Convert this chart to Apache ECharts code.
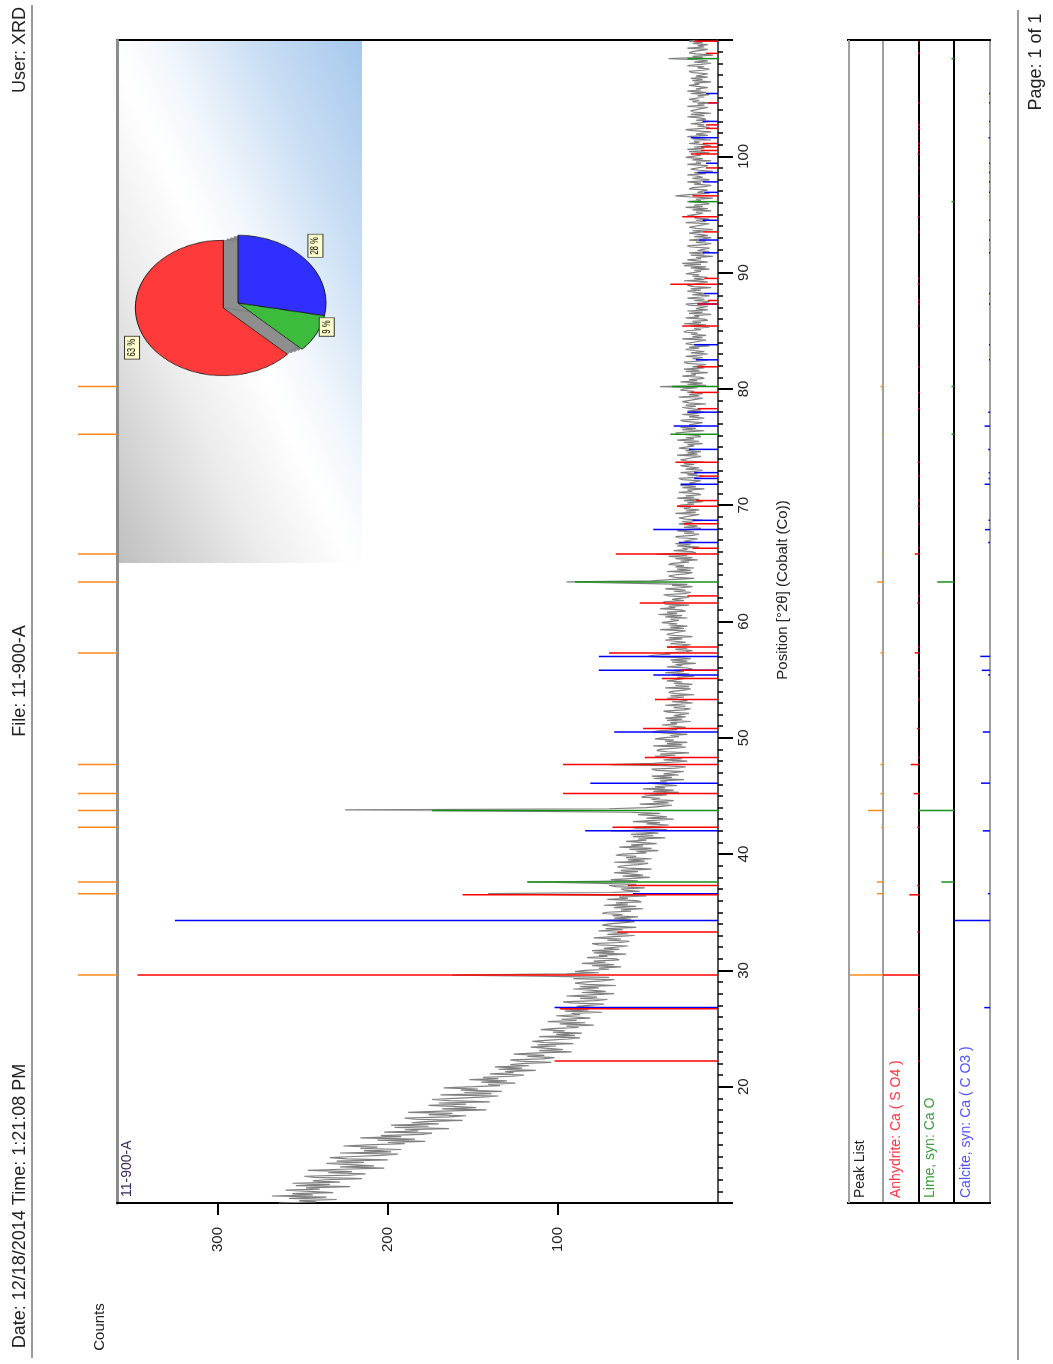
<!DOCTYPE html>
<html>
<head>
<meta charset="utf-8">
<title>11-900-A</title>
<script src="https://cdn.jsdelivr.net/npm/echarts@6/dist/echarts.min.js"></script>
<style>
  html, body { margin: 0; padding: 0; background: #ffffff; }
  #wrap { position: relative; width: 1053px; height: 1364px; }
  #chart { position: absolute; left: 0; top: 0; width: 1053px; height: 1364px; }
  #inset {
    position: absolute; left: 119px; top: 41px; width: 243px; height: 522px;
    background: linear-gradient(to top right, #bfbfbf 0%, #ececec 30%, #ffffff 48%, #f2f7fc 58%, #c9def4 78%, #a6c8ec 100%);
  }
  #pie {
    position: absolute; left: 0; top: 0; width: 243px; height: 522px;
    transform-origin: 117px 262px; transform: scaleY(0.77);
  }
</style>
</head>
<body>
<div id="wrap">
  <div id="chart"></div>
  <div id="inset"><div id="pie"></div></div>
</div>
<script>
// ---- Scan 11-900-A, Co radiation, 10-110 deg 2theta, 0.1 deg steps ----
const scanStart = 10;
const scanStep = 0.1;
const scanCounts = [
  264, 242, 252, 230, 258, 236, 268, 244, 256, 232,   // 10
  232, 260, 240, 248, 222, 254, 234, 256, 228, 244,   // 11
  237, 215, 243, 249, 223, 213, 235, 221, 247, 227,   // 12
  202, 228, 208, 222, 236, 214, 230, 200, 224, 234,   // 13
  220, 204, 194, 228, 198, 214, 192, 216, 206, 226,   // 14
  212, 190, 200, 178, 206, 184, 216, 192, 204, 180,   // 15
  174, 202, 182, 190, 164, 196, 176, 198, 170, 186,   // 16
  178, 156, 184, 190, 164, 154, 176, 162, 188, 168,   // 17
  142, 168, 148, 162, 176, 154, 170, 140, 164, 174,   // 18
  161, 145, 135, 169, 139, 155, 133, 157, 147, 167,   // 19
  149, 134, 141, 125, 145, 130, 152, 135, 144, 127,   // 20
  120, 140, 126, 131, 113, 135, 121, 137, 117, 128,   // 21
  119, 104, 123, 128, 109, 102, 118, 108, 126, 112,   // 22
  92, 111, 97, 106, 116, 101, 112, 91, 108, 115,      // 23
  105, 94, 87, 111, 90, 101, 86, 103, 96, 110,        // 24
  103, 88, 95, 79, 99, 84, 106, 89, 98, 81,           // 25
  81, 101, 87, 92, 74, 96, 82, 98, 78, 89,            // 26
  88, 73, 92, 97, 78, 71, 87, 77, 95, 81,             // 27
  67, 86, 72, 81, 91, 76, 87, 66, 83, 90,             // 28
  85, 74, 67, 91, 70, 110, 162, 95, 76, 90,           // 29
  84, 70, 76, 63, 80, 67, 86, 72, 79, 64,             // 30
  66, 83, 71, 76, 60, 79, 67, 80, 64, 73,             // 31
  73, 59, 76, 80, 64, 58, 71, 63, 79, 67,             // 32
  55, 71, 59, 67, 76, 62, 72, 54, 68, 74,             // 33
  70, 61, 55, 75, 57, 67, 53, 68, 62, 74,             // 34
  71, 57, 63, 50, 67, 54, 73, 59, 66, 51,             // 35
  54, 71, 59, 64, 48, 95, 141, 68, 52, 61,            // 36
  63, 49, 66, 70, 54, 80, 118, 53, 69, 57,            // 37
  46, 62, 50, 58, 67, 53, 63, 45, 59, 65,             // 38
  62, 53, 47, 67, 49, 59, 45, 60, 54, 66,             // 39
  62, 48, 54, 41, 58, 45, 64, 50, 57, 42,             // 40
  43, 60, 48, 53, 37, 56, 44, 57, 41, 50,             // 41
  69, 36, 53, 57, 41, 35, 48, 40, 56, 44,             // 42
  32, 48, 36, 44, 53, 40, 58, 130, 225, 70,           // 43
  48, 39, 33, 52, 35, 44, 32, 45, 40, 51,             // 44
  48, 36, 50, 29, 44, 32, 50, 37, 43, 30,             // 45
  31, 47, 36, 40, 26, 44, 33, 45, 29, 38,             // 46
  38, 26, 42, 45, 31, 25, 37, 69, 44, 33,             // 47
  24, 38, 27, 35, 43, 31, 40, 23, 36, 42,             // 48
  40, 31, 25, 44, 27, 36, 24, 37, 32, 43,             // 49
  39, 29, 34, 24, 36, 45, 41, 30, 36, 25,             // 50
  26, 39, 30, 34, 22, 36, 27, 37, 25, 32,             // 51
  33, 23, 35, 38, 26, 22, 32, 25, 37, 28,             // 52
  21, 33, 24, 30, 36, 26, 34, 20, 31, 35,             // 53
  33, 26, 22, 37, 23, 31, 21, 32, 27, 36,             // 54
  35, 25, 30, 20, 33, 23, 37, 26, 32, 21,             // 55
  24, 36, 27, 31, 19, 33, 24, 34, 22, 29,             // 56
  47, 44, 34, 37, 25, 21, 31, 24, 36, 27,             // 57
  22, 34, 25, 31, 37, 27, 35, 21, 32, 36,             // 58
  36, 29, 25, 40, 26, 34, 24, 35, 30, 39,             // 59
  39, 29, 34, 24, 37, 27, 41, 30, 36, 25,             // 60
  28, 40, 31, 35, 23, 37, 38, 38, 26, 33,             // 61
  33, 23, 35, 38, 26, 22, 32, 25, 37, 28,             // 62
  21, 33, 24, 60, 95, 45, 34, 20, 31, 35,             // 63
  32, 25, 21, 36, 22, 30, 20, 31, 26, 35,             // 64
  33, 23, 28, 18, 31, 21, 35, 24, 42, 19,             // 65
  21, 32, 24, 27, 17, 30, 22, 31, 19, 26,             // 66
  26, 18, 29, 31, 21, 17, 26, 20, 30, 22,             // 67
  16, 26, 18, 24, 29, 21, 27, 15, 25, 29,             // 68
  28, 21, 17, 31, 19, 25, 17, 26, 22, 30,             // 69
  28, 20, 24, 15, 26, 17, 30, 20, 25, 16,             // 70
  18, 29, 21, 24, 14, 27, 19, 28, 16, 23,             // 71
  24, 16, 27, 29, 19, 15, 24, 18, 28, 20,             // 72
  15, 25, 17, 23, 28, 20, 26, 14, 24, 28,             // 73
  27, 20, 16, 30, 18, 24, 16, 25, 21, 29,             // 74
  28, 20, 24, 15, 26, 17, 30, 20, 25, 16,             // 75
  18, 29, 31, 24, 14, 27, 19, 28, 16, 23,             // 76
  23, 15, 26, 28, 18, 14, 23, 17, 27, 19,             // 77
  14, 24, 16, 22, 27, 19, 25, 13, 23, 27,             // 78
  26, 19, 15, 29, 17, 23, 15, 24, 20, 28,             // 79
  26, 18, 40, 13, 24, 15, 28, 18, 23, 14,             // 80
  16, 27, 19, 22, 12, 25, 17, 26, 14, 21,             // 81
  21, 13, 24, 26, 16, 12, 21, 15, 25, 17,             // 82
  12, 22, 14, 20, 25, 17, 23, 11, 21, 25,             // 83
  24, 17, 13, 27, 15, 21, 13, 22, 18, 26,             // 84
  24, 16, 20, 11, 22, 13, 26, 16, 21, 12,             // 85
  14, 25, 17, 20, 10, 23, 15, 24, 12, 19,             // 86
  20, 12, 23, 25, 15, 11, 20, 14, 24, 16,             // 87
  11, 21, 13, 19, 24, 16, 22, 10, 20, 24,             // 88
  23, 16, 12, 26, 14, 20, 12, 21, 17, 25,             // 89
  24, 16, 20, 11, 22, 13, 26, 16, 27, 12,             // 90
  13, 24, 16, 19, 9, 22, 14, 23, 11, 18,              // 91
  19, 11, 22, 24, 14, 10, 19, 13, 23, 15,             // 92
  10, 20, 12, 18, 23, 15, 21, 9, 19, 23,              // 93
  22, 15, 11, 25, 13, 19, 11, 20, 16, 24,             // 94
  23, 15, 19, 10, 21, 12, 25, 15, 20, 11,             // 95
  13, 24, 16, 19, 9, 22, 31, 23, 11, 18,              // 96
  18, 12, 23, 21, 14, 10, 20, 16, 24, 13,             // 97
  11, 21, 15, 18, 24, 13, 20, 9, 17, 22,              // 98
  23, 14, 12, 24, 16, 19, 10, 21, 15, 25,             // 99
  21, 16, 19, 11, 23, 13, 24, 14, 20, 10,             // 100
  14, 23, 17, 20, 10, 21, 13, 24, 12, 19,             // 101
  20, 10, 21, 25, 15, 11, 18, 14, 22, 16,             // 102
  11, 19, 13, 17, 24, 14, 22, 10, 20, 22,             // 103
  21, 16, 12, 24, 14, 18, 10, 21, 17, 23,             // 104
  24, 14, 18, 11, 22, 13, 24, 16, 19, 12,             // 105
  12, 23, 17, 20, 10, 21, 15, 22, 12, 19,             // 106
  20, 12, 21, 23, 15, 11, 18, 14, 24, 16,             // 107
  10, 20, 12, 18, 35, 15, 21, 9, 19, 23,              // 108
  21, 16, 12, 24, 14, 18, 12, 21, 15, 23,             // 109
  18                                                  // 110
];

// ---- Peak list (deg 2theta) and relative intensity (%) ----
const peakAngles = [29.6, 36.6, 37.6, 42.3, 43.75, 45.2, 47.7, 57.3, 63.4, 65.8, 76.1, 80.2];
const peakRel    = [100, 17, 17, 5, 43, 7, 7, 7, 17, 3, 3, 7];

// ---- Anhydrite: Ca ( S O4 ) ----
const anhydriteAngles = [22.2, 26.7, 29.6, 33.3, 36.5, 37.3, 42.3, 45.2, 47.7, 48.3, 50.8, 53.3, 55.1, 55.8, 57.3, 57.8,
  61.6, 62.2, 65.8, 66.3, 68.4, 69.9, 70.4, 72.5, 73.7, 78.3, 79.7, 81.9, 85.4, 87.3, 87.6, 89.0, 89.5, 93.5, 94.8,
  96.6, 99.0, 100.2, 100.5, 100.8, 101.1, 102.4, 102.7, 104.6, 108.85, 109.9];
const anhydriteCounts = [102, 99, 347, 65, 156, 59, 68, 97, 97, 49, 50, 43, 39, 28, 70, 36,
  52, 24, 66, 21, 26, 30, 19, 17, 31, 18, 22, 18, 27, 18, 12, 34, 14, 15, 27,
  21, 13, 22, 16, 16, 15, 13, 13, 12, 13, 20];
const anhydriteRel = [3, 3, 100, 5, 27, 5, 5, 15, 23, 3, 6, 3, 3, 3, 12, 3,
  5, 3, 12, 3, 3, 4, 3, 3, 4, 3, 3, 3, 4, 3, 3, 4, 3, 3, 4,
  3, 3, 4, 3, 3, 3, 3, 3, 3, 3, 3];

// ---- Lime, syn: Ca O ----
const limeAngles = [37.6, 43.75, 63.4, 76.1, 80.2, 96.1, 108.4];
const limeCounts = [118, 174, 90, 34, 33, 23, 24];
const limeRel    = [36, 100, 48, 7, 7, 7, 7];

// ---- Calcite, syn: Ca ( C O3 ) ----
const calciteAngles = [26.8, 34.3, 36.6, 42.0, 46.1, 50.5, 55.4, 55.8, 57.0, 66.8, 67.9, 68.7, 71.8, 72.3, 72.8, 74.8,
  76.8, 78.0, 82.5, 83.8, 87.3, 88.2, 91.7, 92.8, 94.5, 96.9, 97.8, 98.6, 99.4, 101.6, 103.0, 104.6, 105.4];
const calciteCounts = [102, 325, 56, 84, 81, 67, 44, 76, 76, 29, 44, 21, 28, 20, 20, 23,
  32, 24, 19, 20, 18, 14, 15, 17, 15, 14, 15, 18, 13, 22, 15, 11, 13];
const calciteRel = [16, 100, 6, 20, 25, 20, 5, 23, 27, 5, 14, 4, 15, 4, 4, 5,
  15, 5, 3, 3, 3, 3, 3, 3, 3, 3, 3, 3, 3, 4, 3, 3, 3];

// ---- Semi-quantitative phase shares (%) ----
const phaseNames  = ['Calcite, syn', 'Lime, syn', 'Anhydrite'];
const phaseShares = [28, 9, 63];

// ---- Axis tick values ----
const countTicks = [100, 200, 300];
const COUNTS_MIN = 6, COUNTS_MAX = 359;
const ANGLE_MIN = 10, ANGLE_MAX = 110;

// ------------------------------------------------------------------
const FONT = '"Liberation Sans", Arial, sans-serif';
const RED = '#ff0000', GREEN = '#169016', BLUE = '#0000ff', ORANGE = '#ff8a1c';

const scanData = scanCounts.map((c, i) => [c, +(scanStart + i * scanStep).toFixed(2)]);
const pairs = (angles, values) => angles.map((a, i) => [values[i], a]);

function stickSeries(xi, yi, data, color, base, width) {
  return {
    type: 'custom', xAxisIndex: xi, yAxisIndex: yi, z: 4, silent: true,
    encode: { x: 0, y: 1 },
    data: data,
    renderItem: function (params, api) {
      const p0 = api.coord([base, api.value(1)]);
      const p1 = api.coord([api.value(0), api.value(1)]);
      return {
        type: 'line',
        shape: { x1: p0[0], y1: p0[1], x2: p1[0], y2: p1[1] },
        style: { stroke: color, lineWidth: width }
      };
    }
  };
}

function vtext(x, y, text, opt) {
  opt = opt || {};
  return {
    type: 'text', x: x, y: y, rotation: Math.PI / 2, silent: true, z: 10,
    style: {
      text: text, fill: opt.color || '#222', font: (opt.size || 15) + 'px ' + FONT,
      align: opt.align || 'center', verticalAlign: 'middle'
    }
  };
}
function hline(x1, x2, y, color, w) {
  return { type: 'line', silent: true, z: 10, shape: { x1: x1, y1: y, x2: x2, y2: y }, style: { stroke: color, lineWidth: w } };
}
function vline(x, y1, y2, color, w) {
  return { type: 'line', silent: true, z: 10, shape: { x1: x, y1: y1, x2: x, y2: y2 }, style: { stroke: color, lineWidth: w } };
}

const TOP = 40, H = 1163;
const stripGrids = [
  { left: 78, top: TOP, width: 39, height: H },   // peak markers beside the plot
  { left: 848, top: TOP, width: 35, height: H },  // Peak List
  { left: 883, top: TOP, width: 36, height: H },  // Anhydrite
  { left: 919, top: TOP, width: 35, height: H },  // Lime
  { left: 954, top: TOP, width: 36, height: H }   // Calcite
];
const stripLine = [null, '#a0a0a0', '#000000', '#000000', '#a0a0a0'];

const hidden = { show: false };
const xAxes = [{
  gridIndex: 0, type: 'value', inverse: true, min: COUNTS_MIN, max: COUNTS_MAX, position: 'bottom',
  axisLine: { show: true, onZero: false, lineStyle: { color: '#000', width: 2 } },
  axisTick: { show: true, customValues: countTicks, length: 12, lineStyle: { color: '#000', width: 2 } },
  axisLabel: { show: true, customValues: countTicks, rotate: 90, margin: 24, color: '#222', fontSize: 15, fontFamily: FONT },
  splitLine: hidden, minorTick: hidden
}];
const yAxes = [{
  gridIndex: 0, type: 'value', min: ANGLE_MIN, max: ANGLE_MAX, interval: 10, position: 'right',
  axisLine: { show: true, onZero: false, lineStyle: { color: '#555', width: 2 } },
  axisTick: { show: true, length: 15, lineStyle: { color: '#000', width: 2 } },
  minorTick: { show: true, splitNumber: 10, length: 5, lineStyle: { color: '#000', width: 1.5 } },
  axisLabel: { show: true, rotate: 90, margin: 18, showMinLabel: false, showMaxLabel: false, color: '#222', fontSize: 15, fontFamily: FONT },
  splitLine: hidden
}, {
  gridIndex: 0, type: 'value', min: ANGLE_MIN, max: ANGLE_MAX, position: 'left',
  axisLine: { show: true, onZero: false, lineStyle: { color: '#8c8c8c', width: 3 } },
  axisTick: hidden, axisLabel: hidden, splitLine: hidden
}];
stripGrids.forEach((g, i) => {
  xAxes.push({ gridIndex: i + 1, type: 'value', min: 0, max: 100, inverse: true, show: false });
  yAxes.push({
    gridIndex: i + 1, type: 'value', min: ANGLE_MIN, max: ANGLE_MAX, position: 'right',
    show: !!stripLine[i],
    axisLine: { show: !!stripLine[i], onZero: false, lineStyle: { color: stripLine[i] || '#000', width: 2 } },
    axisTick: hidden, axisLabel: hidden, splitLine: hidden
  });
});

const full = peakAngles.map(a => [100, a]);

const main = echarts.init(document.getElementById('chart'));
main.setOption({
  animation: false,
  backgroundColor: '#ffffff',
  textStyle: { fontFamily: FONT },
  grid: [{ left: 117, top: TOP, width: 601, height: H, show: true, borderColor: '#000', borderWidth: 2 }].concat(stripGrids),
  xAxis: xAxes,
  yAxis: yAxes,
  series: [
    {
      type: 'line', xAxisIndex: 0, yAxisIndex: 0, data: scanData, showSymbol: false, silent: true,
      lineStyle: { color: '#808080', width: 1.2 }, z: 3, clip: true
    },
    stickSeries(0, 0, pairs(calciteAngles, calciteCounts), BLUE, COUNTS_MIN, 1.5),
    stickSeries(0, 0, pairs(anhydriteAngles, anhydriteCounts), RED, COUNTS_MIN, 1.5),
    stickSeries(0, 0, pairs(limeAngles, limeCounts), GREEN, COUNTS_MIN, 1.5),
    stickSeries(1, 2, full, ORANGE, 0, 1.5),
    stickSeries(2, 3, pairs(peakAngles, peakRel), ORANGE, 0, 1.5),
    stickSeries(3, 4, pairs(anhydriteAngles, anhydriteRel), RED, 0, 1.5),
    stickSeries(4, 5, pairs(limeAngles, limeRel), GREEN, 0, 1.5),
    stickSeries(5, 6, pairs(calciteAngles, calciteRel), BLUE, 0, 1.5)
  ],
  graphic: [
    vline(32, 5, 1358, '#9a9a9a', 2),
    vline(1018, 10, 1360, '#9a9a9a', 2),
    hline(847, 991, TOP, '#000', 2),
    hline(847, 991, TOP + H, '#000', 2),
    vline(849, TOP, TOP + H, '#a0a0a0', 2),
    vtext(20, 50, 'User: XRD', { size: 18 }),
    vtext(20, 681, 'File: 11-900-A', { size: 18 }),
    vtext(20, 1206, 'Date: 12/18/2014 Time: 1:21:08 PM', { size: 18 }),
    vtext(1036, 62, 'Page: 1 of 1', { size: 18 }),
    vtext(100, 1327, 'Counts', { size: 15 }),
    vtext(127, 1197, '11-900-A', { size: 14, align: 'left', color: '#3a2a55' }),
    vtext(783, 590, 'Position [°2θ] (Cobalt (Co))', { size: 15 }),
    vtext(860, 1198, 'Peak List', { size: 14, align: 'left' }),
    vtext(896, 1198, 'Anhydrite: Ca ( S O4 )', { size: 14, align: 'left', color: '#ff3344' }),
    vtext(930, 1198, 'Lime, syn: Ca O', { size: 14, align: 'left', color: '#3c9c3c' }),
    vtext(966, 1198, 'Calcite, syn: Ca ( C O3 )', { size: 14, align: 'left', color: '#5050ff' })
  ]
});

// ---- Phase composition pie (tilted by the container transform) ----
const PIE_C = [119, 262], PIE_R = 88;
const pieColors = ['#2f2fff', '#3dbb3d', '#ff3a3a'];
const redDir = (() => {
  // direction of the exploded slice's bisector (clockwise from 12 o'clock)
  const total = phaseShares.reduce((s, v) => s + v, 0);
  const start = (phaseShares[0] + phaseShares[1]) / total * 360;
  const mid = (start + 360) / 2 * Math.PI / 180;
  return [Math.sin(mid), -Math.cos(mid)];
})();
const sideLayers = [4, 8, 12, 16].map(d => ({
  type: 'pie', center: [PIE_C[0] + redDir[0] * d, PIE_C[1] + redDir[1] * d], radius: PIE_R,
  startAngle: 90, clockwise: true, silent: true, z: 1, label: { show: false }, labelLine: { show: false },
  data: phaseNames.map((n, i) => ({
    name: n, value: phaseShares[i],
    itemStyle: { color: i === 2 ? 'rgba(0,0,0,0)' : '#8e8e8e', borderColor: i === 2 ? 'rgba(0,0,0,0)' : '#6a6a6a', borderWidth: 0.5 }
  }))
}));
const pie = echarts.init(document.getElementById('pie'));
pie.setOption({
  animation: false,
  series: sideLayers.concat([{
    type: 'pie', center: PIE_C, radius: PIE_R, startAngle: 90, clockwise: true, z: 3,
    selectedMode: 'single', selectedOffset: 16,
    data: phaseNames.map((n, i) => ({
      name: n, value: phaseShares[i], selected: i === 2,
      itemStyle: { color: pieColors[i] }
    })),
    itemStyle: { borderColor: '#1a1a1a', borderWidth: 1 },
    label: {
      show: true, position: 'outside', formatter: '{c} %', rotate: 90, fontSize: 10, color: '#000',
      backgroundColor: '#ffffcc', borderColor: '#333', borderWidth: 1, padding: [2, 3], fontFamily: FONT
    },
    labelLine: { show: false, length: 6, length2: 0 },
    emphasis: { disabled: true }
  }])
});
</script>
</body>
</html>
